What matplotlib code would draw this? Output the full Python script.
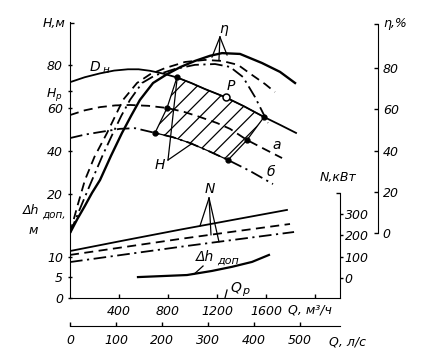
import matplotlib
matplotlib.use('Agg')
import matplotlib.pyplot as plt
from matplotlib.ticker import FixedLocator

plt.rcParams['font.family'] = 'DejaVu Sans'
plt.rcParams['font.style'] = 'italic'
plt.rcParams['font.size'] = 9
plt.rcParams['hatch.linewidth'] = 0.9

# H-Q curves, three impeller diameters (Q in m3/h, H in m)
q_h1 = [0, 120, 245, 360, 473, 560, 653, 760, 873, 990, 1102, 1265, 1420, 1584, 1720, 1845]
h_h1 = [72.0, 74.3, 76.1, 77.4, 78.0, 78.0, 77.3, 76.0, 74.2, 71.6, 68.8, 65.1, 60.8, 55.8, 52.0, 48.4]
q_h2 = [0, 120, 245, 370, 490, 640, 792, 930, 1061, 1200, 1306, 1445, 1590, 1731]
h_h2 = [56.7, 58.9, 60.4, 61.2, 61.4, 61.0, 60.0, 58.2, 55.8, 53.0, 50.3, 45.1, 40.8, 36.7]
q_h3 = [0, 120, 245, 408, 531, 694, 840, 980, 1130, 1290, 1469, 1657]
h_h3 = [46.0, 47.6, 48.8, 50.3, 50.6, 48.4, 46.4, 43.7, 40.0, 35.8, 30.7, 24.6]

# efficiency curves (%)
q_e1 = [0, 60, 120, 180, 245, 335, 424, 500, 571, 678, 790, 900, 1020, 1143, 1241, 1388, 1567, 1714, 1837]
e_1 = [0, 6.8, 13.0, 19.5, 25.7, 37.5, 48.5, 57.0, 64.6, 72.8, 77.0, 80.5, 83.5, 86.0, 87.3, 86.9, 82.5, 78.2, 72.8]
q_e2 = [0, 60, 122, 200, 302, 433, 547, 653, 775, 939, 1102, 1241, 1371, 1486, 1592, 1673]
e_2 = [0, 13.0, 25.7, 37.0, 48.5, 64.6, 72.8, 77.0, 80.0, 83.0, 84.0, 83.5, 81.6, 76.7, 72.3, 68.4]
q_e3 = [0, 90, 180, 265, 351, 420, 490, 588, 694, 857, 1020, 1184, 1306, 1412, 1510, 1616]
e_3 = [0, 13.0, 25.7, 37.5, 48.5, 57.0, 64.6, 72.8, 76.5, 79.6, 81.6, 82.0, 80.6, 75.7, 66.0, 53.4]

# power curves (kW)
q_n1 = [0, 450, 900, 1340, 1771]
n_1 = [127, 177, 226, 272, 317]
q_n2 = [0, 450, 900, 1350, 1796]
n_2 = [109, 146, 183, 218, 252]
q_n3 = [0, 460, 920, 1380, 1829]
n_3 = [76, 112, 148, 182, 215]

# permissible cavitation reserve (m)
q_dh = [555, 955, 1159, 1322, 1486, 1624]
dh = [5.1, 5.6, 6.6, 7.6, 8.8, 10.5]

# working field (hatched)
zone_q = [873, 990, 1102, 1265, 1420, 1584, 1445, 1290, 1130, 980, 840, 694, 792]
zone_h = [74.2, 71.6, 68.8, 65.1, 60.8, 55.8, 45.1, 35.8, 40.0, 43.7, 46.4, 48.4, 60.0]
dot_q = [873, 792, 694, 1584, 1445, 1290]
dot_h = [74.2, 60.0, 48.4, 55.8, 45.1, 35.8]
p_q, p_h = 1273, 65.2
H_p = 67.9
Q_p = 1265

h_ticks = [20, 40, 60, H_p, 80]
h_labels = ['20', '40', '60', '$H_p$', '80']
dh_ticks = [0, 5, 10]
eta_ticks = [0, 20, 40, 60, 80]
n_ticks = [0, 100, 200, 300]
qm_ticks = [400, 800, 1200, 1600, 2000]
qm_labels = ['400', '800', '1200', '1600', '']
ql_ticks = [0, 100, 200, 300, 400, 500]

DASH = (0, (5, 3))
DASHDOT = (0, (7, 2.5, 1.2, 2.5))


def fx(x):
    return x / 423


def fy(y):
    return 1 - y / 358


fig = plt.figure(figsize=(4.23, 3.58), dpi=100)
ax = fig.add_axes([fx(70), fy(298), fx(340) - fx(70), fy(22) - fy(298)])
ax.set_xlim(0, 2204)
ax.set_ylim(-28.4, 100)
for s in ['top', 'right']:
    ax.spines[s].set_visible(False)
ax.set_xticks(qm_ticks, qm_labels)
ax.tick_params(axis='x', direction='in', length=3, width=1, pad=5)
ax.set_yticks(h_ticks, h_labels)
ax.tick_params(axis='y', direction='inout', length=3, width=1, pad=3.5)
ax.yaxis.set_minor_locator(FixedLocator([99.6]))
ax.tick_params(axis='y', which='minor', direction='in', length=3, width=1)

ax_dh = ax.twinx()
ax_dh.set_ylim(0, 67.3)
ax_dh.yaxis.tick_left()
for s in ax_dh.spines.values():
    s.set_visible(False)
ax_dh.set_yticks(dh_ticks)
ax_dh.tick_params(axis='y', direction='inout', length=3, width=1, pad=3.5)

ax_e = ax.twinx()
ax_e.set_ylim(-31.55, 102.4)
for s in ['left', 'top', 'bottom']:
    ax_e.spines[s].set_visible(False)
ax_e.spines['right'].set_position(('axes', 1.1407))
ax_e.spines['right'].set_bounds(0, 101.5)
ax_e.set_yticks(eta_ticks)
ax_e.tick_params(axis='y', direction='in', length=3, width=1, pad=3.5)
ax_e.yaxis.set_minor_locator(FixedLocator([101.5]))
ax_e.tick_params(axis='y', which='minor', direction='in', length=3, width=1)

ax_n = ax.twinx()
ax_n.set_ylim(-90.2, 1186)
for s in ['left', 'top', 'bottom']:
    ax_n.spines[s].set_visible(False)
ax_n.spines['right'].set_bounds(-90.2, 395)
ax_n.set_yticks(n_ticks)
ax_n.tick_params(axis='y', direction='out', length=2.5, width=1, pad=1)
ax_n.yaxis.set_minor_locator(FixedLocator([395]))
ax_n.tick_params(axis='y', which='minor', direction='in', length=3, width=1)

# second flow scale, l/s
ax_l = fig.add_axes([fx(70), fy(326), fx(340) - fx(70), 1 / 358])
ax_l.set_xlim(0, 587)
ax_l.set_ylim(0, 1)
ax_l.patch.set_visible(False)
for s in ['left', 'top', 'right']:
    ax_l.spines[s].set_visible(False)
ax_l.set_yticks([])
ax_l.set_xticks(ql_ticks)
ax_l.tick_params(axis='x', direction='in', length=3, width=1, pad=6)

lw = 1.3
ax.fill(zone_q, zone_h, facecolor='none', edgecolor='k', hatch='//', lw=0.9)
ax.plot(q_h1, h_h1, color='k', lw=lw)
ax.plot(q_h2, h_h2, color='k', lw=lw, ls=DASH)
ax.plot(q_h3, h_h3, color='k', lw=lw, ls=DASHDOT)
ax.plot(dot_q, dot_h, 'o', color='k', ms=3.5)
ax.plot([p_q], [p_h], 'o', ms=5, mfc='white', mec='k', mew=1.1, zorder=5)

ax_e.plot(q_e1, e_1, color='k', lw=1.7)
ax_e.plot(q_e2, e_2, color='k', lw=lw, ls=DASH)
ax_e.plot(q_e3, e_3, color='k', lw=lw, ls=DASHDOT)

ax_n.plot(q_n1, n_1, color='k', lw=lw)
ax_n.plot(q_n2, n_2, color='k', lw=lw, ls=DASH)
ax_n.plot(q_n3, n_3, color='k', lw=lw, ls=DASHDOT)

ax_dh.plot(q_dh, dh, color='k', lw=1.6)

# leaders
lk = dict(color='k', lw=0.9)
for q, e in [(1159, 85.4), (1216, 84.0), (1282, 86.4)]:
    ax_e.plot([1224, q], [95.1, e], **lk)
ax_e.text(1257, 99, 'η', ha='center', va='center', fontsize=10)
for q, n in [(1061, 243), (1151, 202), (1216, 170)]:
    ax_n.plot([1135, q], [372, n], **lk)
ax_n.text(1143, 414, 'N', ha='center', va='center', fontsize=10)
for q, h in [(873, 73.0), (996, 43.5)]:
    ax.plot([800, q], [35.8, h], **lk)
ax.text(735, 33.5, 'H', ha='center', va='center', fontsize=10)
ax_dh.plot([1086, 1012], [7.8, 5.8], **lk)
ax_dh.text(1102, 10.0, 'Δh', ha='center', va='center', fontsize=10)
ax_dh.text(1200, 9.2, 'доп', ha='left', va='center', fontsize=8)
ax_dh.plot([1282, Q_p], [1.95, 0], **lk)
ax_dh.text(1355, 2.6, 'Q', ha='center', va='center', fontsize=10)
ax_dh.text(1405, 1.7, 'p', ha='left', va='center', fontsize=8)

ax.text(205, 79.2, 'D', ha='center', va='center', fontsize=10)
ax.text(268, 77.6, 'н', ha='left', va='center', fontsize=7.5)
ax.text(1314, 70.0, 'P', ha='center', va='center', fontsize=10)
ax.text(1690, 43.0, 'a', ha='center', va='center', fontsize=10)
ax.text(1641, 30.0, 'б', ha='center', va='center', fontsize=10)

# axis titles
fig.text(fx(54), fy(23), 'H,м', ha='center', va='center', fontsize=9)
fig.text(fx(383), fy(24), 'η,%', ha='left', va='center', fontsize=9)
fig.text(fx(338), fy(178), 'N,кВт', ha='center', va='center', fontsize=9)
fig.text(fx(288), fy(310), 'Q, м³/ч', ha='left', va='center', fontsize=9)
fig.text(fx(329), fy(342), 'Q, л/с', ha='left', va='center', fontsize=9)
fig.text(fx(31), fy(211), 'Δh', ha='center', va='center', fontsize=9)
fig.text(fx(42), fy(215), 'доп,', ha='left', va='center', fontsize=7.5)
fig.text(fx(33), fy(231), 'м', ha='center', va='center', fontsize=9)

fig.savefig('out.png', dpi=100)
